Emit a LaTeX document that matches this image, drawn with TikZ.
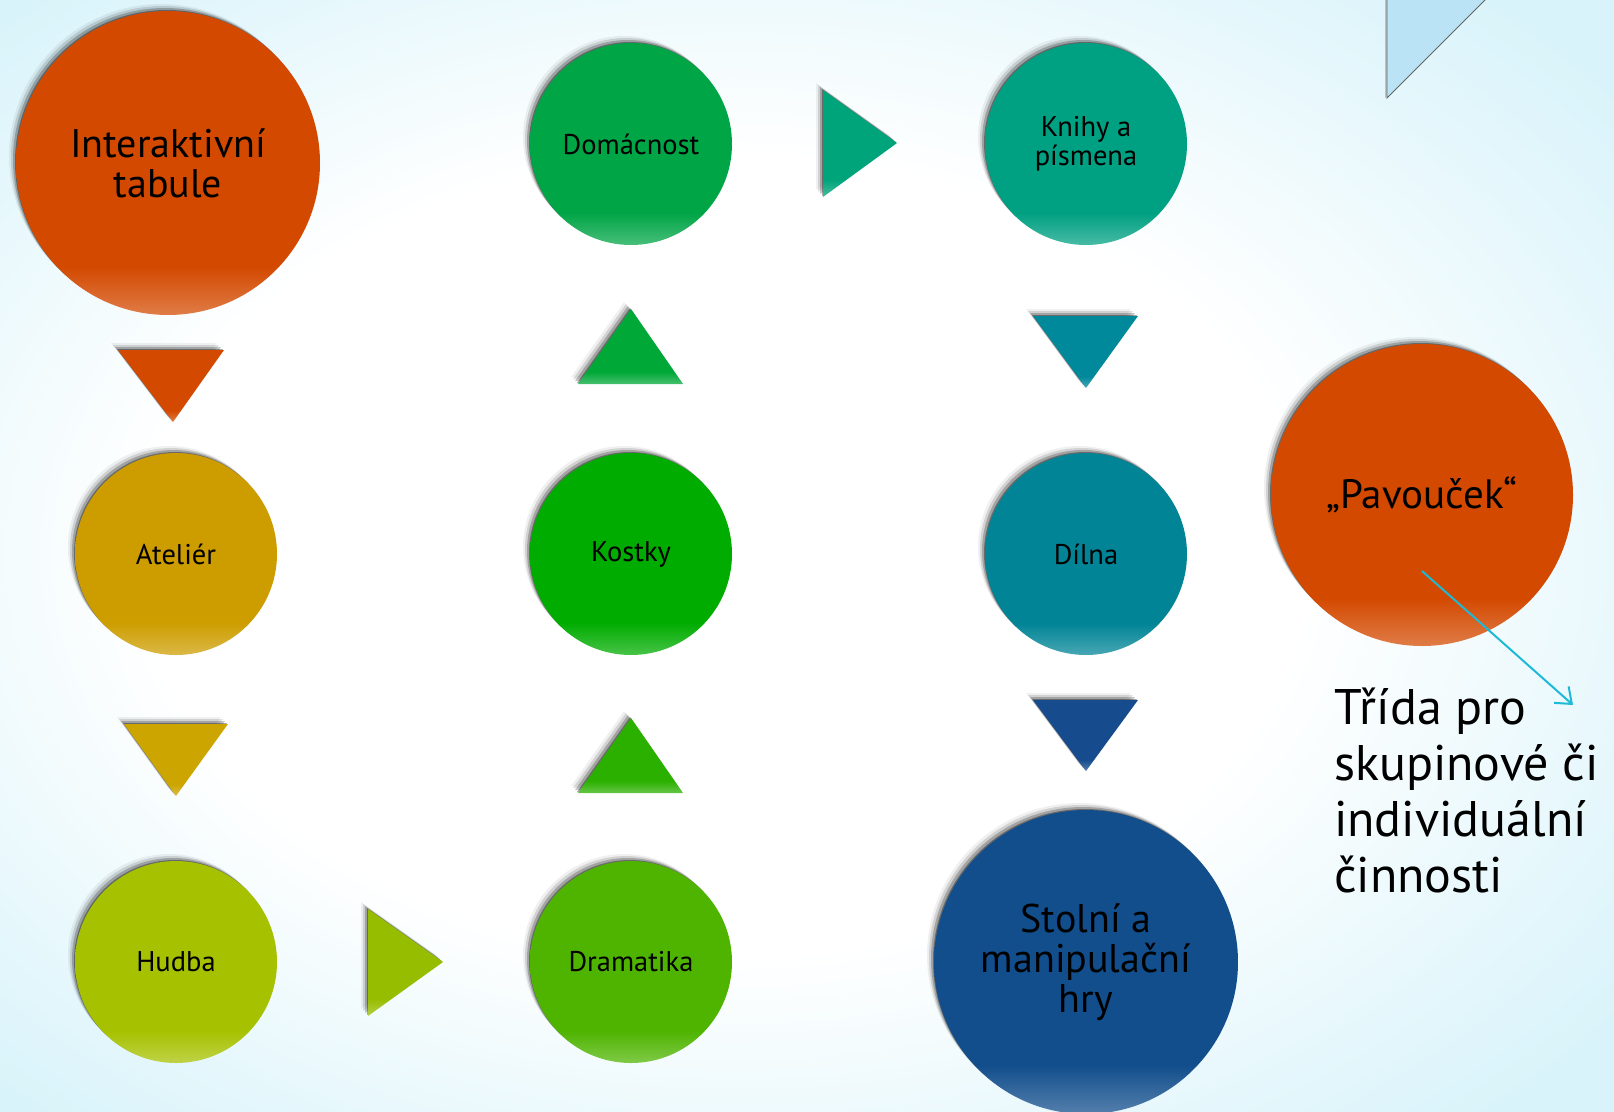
\documentclass[tikz,border=0pt]{standalone}
\usepackage{fontspec}
\setmainfont{PT Sans}
\usetikzlibrary{shadows,arrows.meta}
\definecolor{cOrange}{RGB}{211,73,0}
\definecolor{cGold}{RGB}{205,157,0}
\definecolor{cLime}{RGB}{166,193,0}
\definecolor{cDrama}{RGB}{78,180,0}
\definecolor{cKost}{RGB}{0,172,0}
\definecolor{cDom}{RGB}{0,165,70}
\definecolor{cKnih}{RGB}{0,160,130}
\definecolor{cDil}{RGB}{0,132,150}
\definecolor{cStol}{RGB}{18,78,140}
\definecolor{tGold}{RGB}{205,165,0}
\definecolor{tLime}{RGB}{151,189,0}
\definecolor{tDrama}{RGB}{43,176,0}
\definecolor{tKost}{RGB}{0,168,56}
\definecolor{tKnih}{RGB}{0,164,122}
\definecolor{tDil}{RGB}{0,137,155}
\definecolor{tStol}{RGB}{22,76,142}
\definecolor{bgc}{RGB}{216,243,250}
\definecolor{cyanarrow}{RGB}{30,185,215}
\definecolor{cornertri}{RGB}{186,228,245}
\colorlet{bcol}{black}
\colorlet{lcol}{black}
\pgfdeclareverticalshading[bcol,lcol]{bubble}{100bp}{color(0bp)=(lcol); color(25bp)=(lcol); color(33bp)=(bcol); color(100bp)=(bcol)}
\pgfdeclareradialshading{bgshade}{\pgfpoint{-4bp}{0bp}}{color(0bp)=(white); color(18bp)=(white); color(34bp)=(bgc); color(50bp)=(bgc)}
\tikzset{
  shd/.style={
    general shadow={shadow xshift=-1pt, shadow yshift=1pt, fill=black, opacity=.35},
    general shadow={shadow xshift=-3pt, shadow yshift=3pt, fill=black, opacity=.22},
    general shadow={shadow xshift=-5pt, shadow yshift=5pt, fill=black, opacity=.12},
    general shadow={shadow xshift=-7pt, shadow yshift=7pt, fill=black, opacity=.06}},
  bub/.style={circle, inner sep=0pt, shd, align=center, text=black,
    /utils/exec={\colorlet{bcol}{#1}\colorlet{lcol}{#1!72!white}}, shading=bubble},
  big/.style={minimum size=304pt, font=\fontsize{40}{40}\selectfont},
  small/.style={minimum size=202pt, font=\fontsize{28.5}{29.5}\selectfont},
  tri/.style={shd, /utils/exec={\colorlet{bcol}{#1}\colorlet{lcol}{#1!72!white}}, shading=bubble},
  link/.style={draw=cyanarrow, line width=2pt, -{Straight Barb[length=14pt,width=22pt,line width=2pt]}}
}
\begin{document}
\begin{tikzpicture}[x=1pt,y=-1pt]
\useasboundingbox (0,0) rectangle (1614,1111);
\clip (0,0) rectangle (1614,1111);
\shade[shading=bgshade] (0,0) rectangle (1614,1111);
% corner triangle
\filldraw[fill=cornertri, draw=black!60, line width=0.9pt,
  general shadow={shadow xshift=-2pt, shadow yshift=0pt, fill=black, opacity=.2}]
  (1387,-80) -- (1387,98) -- (1565,-80) -- cycle;
% circles
\node[bub=cOrange, big] (tab) at (168,163) {Interaktivní\\tabule};
\node[bub=cDom, small] (dom) at (631,144) {Domácnost};
\node[bub=cKnih, small] (knih) at (1086,144) {Knihy a\\písmena};
\node[bub=cGold, small] (ate) at (176,554) {Ateliér};
\node[bub=cKost, small] (kost) at (631,554) {Kostky};
\node[bub=cDil, small] (dil) at (1086,554) {Dílna};
\node[bub=cLime, small] (hud) at (176,962) {Hudba};
\node[bub=cDrama, small] (dram) at (631,962) {Dramatika};
\node[bub=cStol, big] (stol) at (1086,962) {Stolní a\\manipulační\\hry};
\node[bub=cOrange, minimum size=302pt, font=\fontsize{41}{44}\selectfont] (pav) at (1422,495) {„Pavouček“};
% triangles
\path[tri=cOrange] (118,350) -- (224,350) -- (173,422) -- cycle;
\path[tri=tGold] (124,724) -- (228,724) -- (176,796) -- cycle;
\path[tri=tLime] (368,909) -- (443,962) -- (368,1016) -- cycle;
\path[tri=tDrama] (578,793) -- (631,718) -- (683,793) -- cycle;
\path[tri=tKost] (578,384) -- (631,309) -- (683,384) -- cycle;
\path[tri=tKnih] (823,90) -- (897,143) -- (823,197) -- cycle;
\path[tri=tDil] (1033,316) -- (1138,316) -- (1086,388) -- cycle;
\path[tri=tStol] (1033,700) -- (1138,700) -- (1086,771) -- cycle;
% text and arrow
\node[anchor=north west, align=left, inner sep=0pt, font=\fontsize{50}{56}\selectfont] (trida) at (1334,688) {Třída pro\\skupinové či\\individuální\\činnosti};
\coordinate (arrS) at (1422,571);
\coordinate (arrE) at (1573,705);
\draw[link] (arrS) -- (arrE);
\end{tikzpicture}
\end{document}
